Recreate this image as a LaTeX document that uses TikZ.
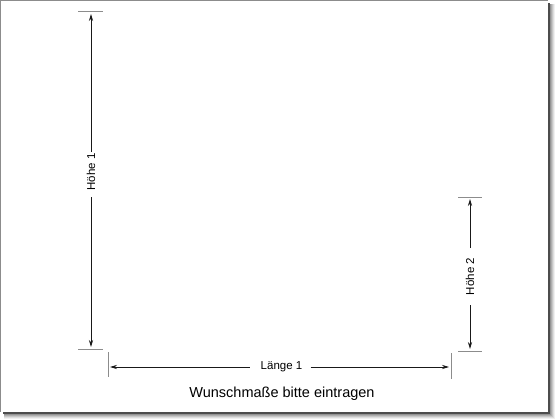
\documentclass[tikz,border=0pt]{standalone}
\usepackage{fontspec}
\setmainfont{Liberation Sans}
\usetikzlibrary{arrows.meta}
\begin{document}
\begin{tikzpicture}[x=1pt,y=-1pt,
  tick/.style={draw=black!45,line width=1pt},
  dim/.style={draw=black!90,line width=1pt,-{Stealth[length=7pt,width=4.2pt]}},
  lbl/.style={font=\fontsize{11.5}{12}\selectfont,inner sep=0pt,text=black},
]
\useasboundingbox (0,0) rectangle (560,420);
\fill[white] (0,0) rectangle (560,420);
% shadow
\foreach \k/\o in {7/0.06,6/0.08,5/0.1,4/0.12,3/0.15,2/0.2}
  \fill[black,opacity=\o] (4,4) rectangle (548+\k,412+\k);
\fill[black!70] (3,3) rectangle (549.5,413.5);
\fill[white] (1,1) rectangle (547.5,411.5);
\draw[black!45,line width=1pt] (0.5,0.5) -- (0.5,411.5);
\draw[black!45,line width=1pt] (0.5,0.5) -- (547.5,0.5);

% Höhe 1
\coordinate (h1t1) at (78,12); \coordinate (h1t2) at (103,12);
\coordinate (h1b1) at (78,349); \coordinate (h1b2) at (103,349);
\draw[tick] (h1t1) -- (h1t2);
\draw[tick] (h1b1) -- (h1b2);
\node[lbl,rotate=90] (h1) at (91,172) {Höhe 1};
\coordinate (h1g1) at (91,152);
\coordinate (h1g2) at (91,197);
\coordinate (h1top) at (91,14);
\coordinate (h1bot) at (91,347);
\draw[dim] (h1g1) -- (h1top);
\draw[dim] (h1g2) -- (h1bot);

% Höhe 2
\coordinate (h2t1) at (458,197); \coordinate (h2t2) at (482,197);
\coordinate (h2b1) at (458,351); \coordinate (h2b2) at (482,351);
\draw[tick] (h2t1) -- (h2t2);
\draw[tick] (h2b1) -- (h2b2);
\node[lbl,rotate=90] (h2) at (470,276.5) {Höhe 2};
\coordinate (h2g1) at (470,248);
\coordinate (h2g2) at (470,305);
\coordinate (h2top) at (470,199);
\coordinate (h2bot) at (470,349);
\draw[dim] (h2g1) -- (h2top);
\draw[dim] (h2g2) -- (h2bot);

% Länge 1
\coordinate (l1a) at (108,352); \coordinate (l1b) at (108,377);
\coordinate (l1c) at (451,353); \coordinate (l1d) at (451,379);
\draw[tick] (l1a) -- (l1b);
\draw[tick] (l1c) -- (l1d);
\node[lbl] (l1) at (281.5,366.5) {Länge 1};
\coordinate (l1g1) at (249.5,367);
\coordinate (l1g2) at (310.5,367);
\coordinate (l1left) at (110,367);
\coordinate (l1right) at (449,367);
\draw[dim] (l1g1) -- (l1left);
\draw[dim] (l1g2) -- (l1right);

\node[font=\fontsize{14.5}{16}\selectfont,inner sep=0pt,text=black] (cap) at (282,393.5) {Wunschmaße bitte eintragen};
\end{tikzpicture}
\end{document}
